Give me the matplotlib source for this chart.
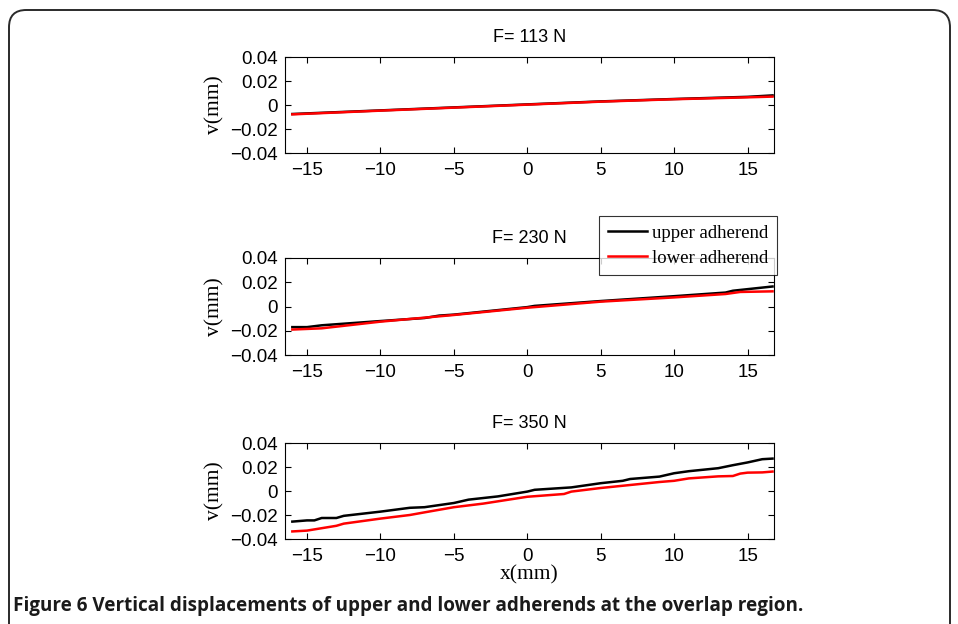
import matplotlib
matplotlib.use("Agg")
import matplotlib.pyplot as plt
from matplotlib.patches import FancyBboxPatch
from matplotlib.lines import Line2D

# ---- data ----
x1 = [-16, -10, -5, 0, 5, 10, 15, 16.7]
up1 = [-0.0075, -0.0045, -0.002, 0.0005, 0.003, 0.005, 0.0068, 0.0080]
lo1 = [-0.0078, -0.0047, -0.0022, 0.0003, 0.0028, 0.0048, 0.0064, 0.0070]

x2u = [-16, -15, -14, -10, -7, -6, -5, 0, 0.5, 5, 10, 13.5, 14, 15, 16.7]
up2 = [-0.017, -0.017, -0.0155, -0.012, -0.0095, -0.0075, -0.0067, -0.0005, 0.0005,
       0.0045, 0.0085, 0.0115, 0.013, 0.0143, 0.0165]
x2l = [-16, -14, -10, -5, 0, 5, 10, 13.5, 14.5, 16.7]
lo2 = [-0.019, -0.018, -0.0125, -0.007, -0.001, 0.004, 0.0075, 0.0103, 0.012, 0.0125]

x3u = [-16, -15, -14.5, -14, -13, -12.5, -10, -8, -7, -5, -4, -2, 0, 0.5, 2, 3,
       5, 6.5, 7, 9, 10, 11, 13, 14, 15, 16, 16.7]
up3 = [-0.0255, -0.0245, -0.0245, -0.0225, -0.0225, -0.0207, -0.0172, -0.0140, -0.0135,
       -0.0100, -0.0072, -0.0045, -0.0005, 0.0010, 0.0022, 0.0030, 0.0065, 0.0085,
       0.0100, 0.0120, 0.0148, 0.0165, 0.0190, 0.0215, 0.0238, 0.0265, 0.0270]
x3l = [-16, -15, -13, -12.5, -10, -8, -7, -5, -3, 0, 2.5, 3, 5, 7, 9, 10, 11,
       13, 14, 14.5, 15, 16, 16.7]
lo3 = [-0.0337, -0.0330, -0.0290, -0.0272, -0.0230, -0.0200, -0.0178, -0.0135, -0.0105,
       -0.0048, -0.0025, -0.0005, 0.0025, 0.0050, 0.0075, 0.0085, 0.0105, 0.0122,
       0.0125, 0.0145, 0.0153, 0.0155, 0.0162]

titles = ["F= 113 N", "F= 230 N", "F= 350 N"]
xticks = [-15, -10, -5, 0, 5, 10, 15]
xticklabels = ["\u221215", "\u221210", "\u22125", "0", "5", "10", "15"]
yticks = [-0.04, -0.02, 0, 0.02, 0.04]
yticklabels = ["\u22120.04", "\u22120.02", "0", "0.02", "0.04"]
legend_labels = ["upper adherend", "lower adherend"]
caption = "Figure 6 Vertical displacements of upper and lower adherends at the overlap region."

W, H = 958, 624
fig = plt.figure(figsize=(W / 100, H / 100), dpi=100)

# border frame
frame = FancyBboxPatch((9 / W, -0.1), (950 - 9) / W, (624 - 10) / H + 0.1,
                       boxstyle="round,pad=0,rounding_size=0.018",
                       transform=fig.transFigure, fill=False,
                       edgecolor="#2a2a2a", linewidth=1.4, mutation_aspect=W / H)
fig.patches.append(frame)

ax_boxes = [(57, 153), (258, 355), (443, 539)]
left_px, right_px = 285, 774
data = [((x1, up1), (x1, lo1)), ((x2u, up2), (x2l, lo2)), ((x3u, up3), (x3l, lo3))]

sans = "Liberation Sans"
serif = "Liberation Serif"

axes = []
for i, ((top, bot), ((xu, yu), (xl, yl))) in enumerate(zip(ax_boxes, data)):
    ax = fig.add_axes([left_px / W, 1 - bot / H, (right_px - left_px) / W, (bot - top) / H])
    ax.plot(xu, yu, color="black", lw=1.8)
    ax.plot(xl, yl, color="red", lw=1.8)
    ax.set_xlim(-16.5, 16.8)
    ax.set_ylim(-0.04, 0.04)
    ax.set_xticks(xticks)
    ax.set_xticklabels(xticklabels, fontfamily=sans, fontsize=13.5)
    ax.set_yticks(yticks)
    ax.set_yticklabels(yticklabels, fontfamily=sans, fontsize=13.5)
    ax.tick_params(direction="in", top=True, right=True, length=4, width=0.8)
    ax.tick_params(axis="x", pad=6.5)
    ax.tick_params(axis="y", pad=5)
    ax.set_ylabel("v(mm)", fontfamily=serif, fontsize=15.5, labelpad=4)
    ax.set_title(titles[i], fontfamily=sans, fontsize=13, pad=10.5)
    for s in ax.spines.values():
        s.set_linewidth(0.8)
    axes.append(ax)

axes[2].set_xlabel("x(mm)", fontfamily=serif, fontsize=15.5, labelpad=0.5)

handles = [Line2D([], [], color="black", lw=1.8), Line2D([], [], color="red", lw=1.8)]
leg = fig.legend(handles, legend_labels, loc="upper right",
                 bbox_to_anchor=(777 / W, 1 - 216 / H),
                 prop={"family": serif, "size": 13.5}, frameon=True, fancybox=False,
                 edgecolor="black", handlelength=2.1, handletextpad=0.28,
                 borderpad=0.45, labelspacing=0.42, borderaxespad=0)
leg.get_frame().set_linewidth(0.8)

fig.text(13 / W, 1 - 606 / H, caption,
         fontfamily="Open Sans", fontweight="bold",
         fontsize=13.55, va="center", ha="left", color="#1a1a1a")

fig.savefig("out.png", dpi=100)
